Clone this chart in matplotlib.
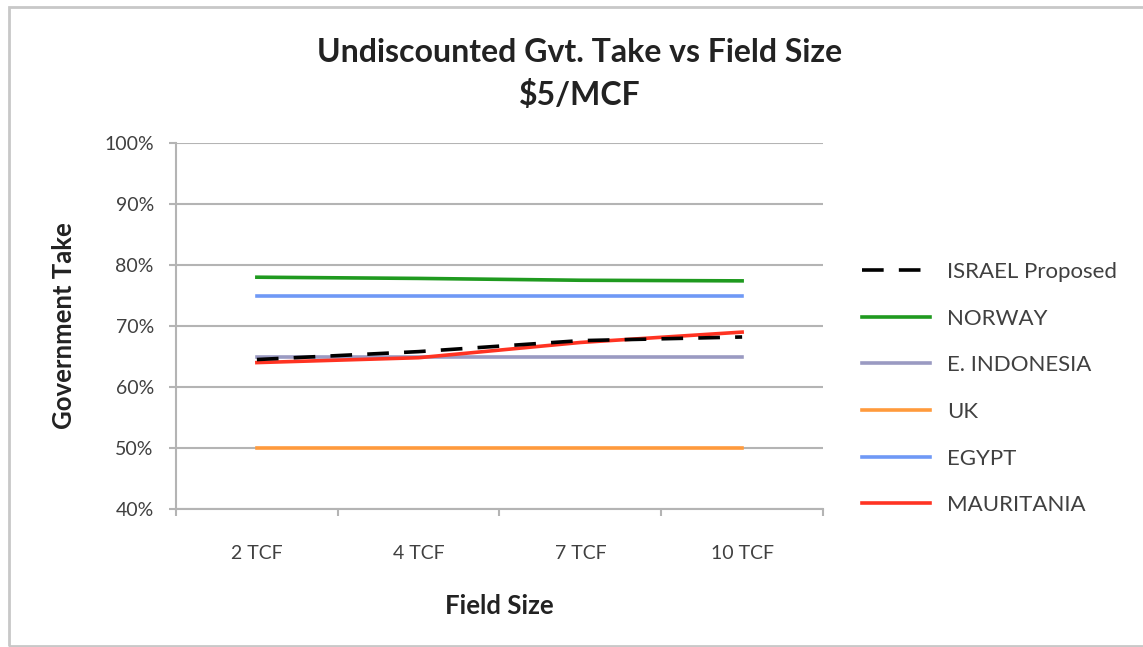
import matplotlib
matplotlib.use("Agg")
import matplotlib.pyplot as plt
from matplotlib.patches import Rectangle

plt.rcParams['font.family'] = ['Lato', 'DejaVu Sans']

categories = ["2 TCF", "4 TCF", "7 TCF", "10 TCF"]
israel = [64.5, 65.8, 67.6, 68.2]
norway = [78.0, 77.8, 77.5, 77.4]
indonesia = [65.0, 65.0, 65.0, 65.0]
uk = [50.0, 50.0, 50.0, 50.0]
egypt = [75.0, 75.0, 75.0, 75.0]
mauritania = [64.0, 64.8, 67.3, 69.0]
yticks = [40, 50, 60, 70, 80, 90, 100]

W, H = 1143, 647
fig = plt.figure(figsize=(W / 100, H / 100), dpi=100)
fig.patches.append(Rectangle((9 / W, 1 - 646 / H), 1.2, (646 - 7) / H,
                             transform=fig.transFigure, fill=False,
                             edgecolor='#c8c8c8', linewidth=2.0))

ax = fig.add_axes([176 / W, 1 - 509 / H, (823 - 176) / W, (509 - 143) / H])
x = range(len(categories))
lw = 2.6
ax.plot(x, israel, color='black', lw=lw, dashes=(6, 4.2), label='ISRAEL Proposed', zorder=5)
ax.plot(x, norway, color='#1f9a1f', lw=lw, label='NORWAY')
ax.plot(x, indonesia, color='#9a9ac2', lw=lw, label='E. INDONESIA')
ax.plot(x, uk, color='#ff9a3c', lw=lw, label='UK')
ax.plot(x, egypt, color='#6f99f6', lw=lw, label='EGYPT')
ax.plot(x, mauritania, color='#ff3322', lw=lw, label='MAURITANIA', zorder=4)

ax.set_xlim(-0.5, len(categories) - 0.5)
ax.set_ylim(40, 100)
ax.set_yticks(yticks)
ax.set_yticklabels([f"{v}%" for v in yticks])
ax.set_xticks(list(x))
ax.set_xticklabels(categories)
ax.set_xticks([i + 0.5 for i in range(-1, len(categories))], minor=True)

grid_c = '#b4b4b4'
ax.grid(axis='y', color=grid_c, lw=1.5)
ax.set_axisbelow(True)
for s in ['top', 'right']:
    ax.spines[s].set_visible(False)
for s in ['left', 'bottom']:
    ax.spines[s].set_color(grid_c)
    ax.spines[s].set_linewidth(1.5)
ax.tick_params(axis='y', length=5, width=1.5, color=grid_c, labelsize=14,
               labelcolor='#404040', pad=11)
ax.tick_params(axis='x', which='major', length=0, labelsize=14,
               labelcolor='#404040', pad=26)
ax.tick_params(axis='x', which='minor', length=5, width=1.5, color=grid_c)

ax.set_xlabel('Field Size', fontsize=18.5, fontweight='bold', color='#222222', labelpad=23)
ax.set_ylabel('Government Take', fontsize=18.5, fontweight='bold', color='#222222', labelpad=20)

fig.text(580 / W, 1 - 52 / H, 'Undiscounted Gvt. Take vs Field Size', ha='center',
         va='center', fontsize=23, fontweight='bold', color='#222222')
fig.text(580 / W, 1 - 95 / H, '$5/MCF', ha='center', va='center',
         fontsize=23, fontweight='bold', color='#222222')

leg = ax.legend(loc='upper left', bbox_to_anchor=(853 / W, 1 - 253 / H),
                bbox_transform=fig.transFigure, frameon=False, fontsize=16,
                handlelength=3.05, handletextpad=0.8, labelspacing=1.2,
                labelcolor='#404040', borderaxespad=0)

fig.savefig('out.png', dpi=100)
